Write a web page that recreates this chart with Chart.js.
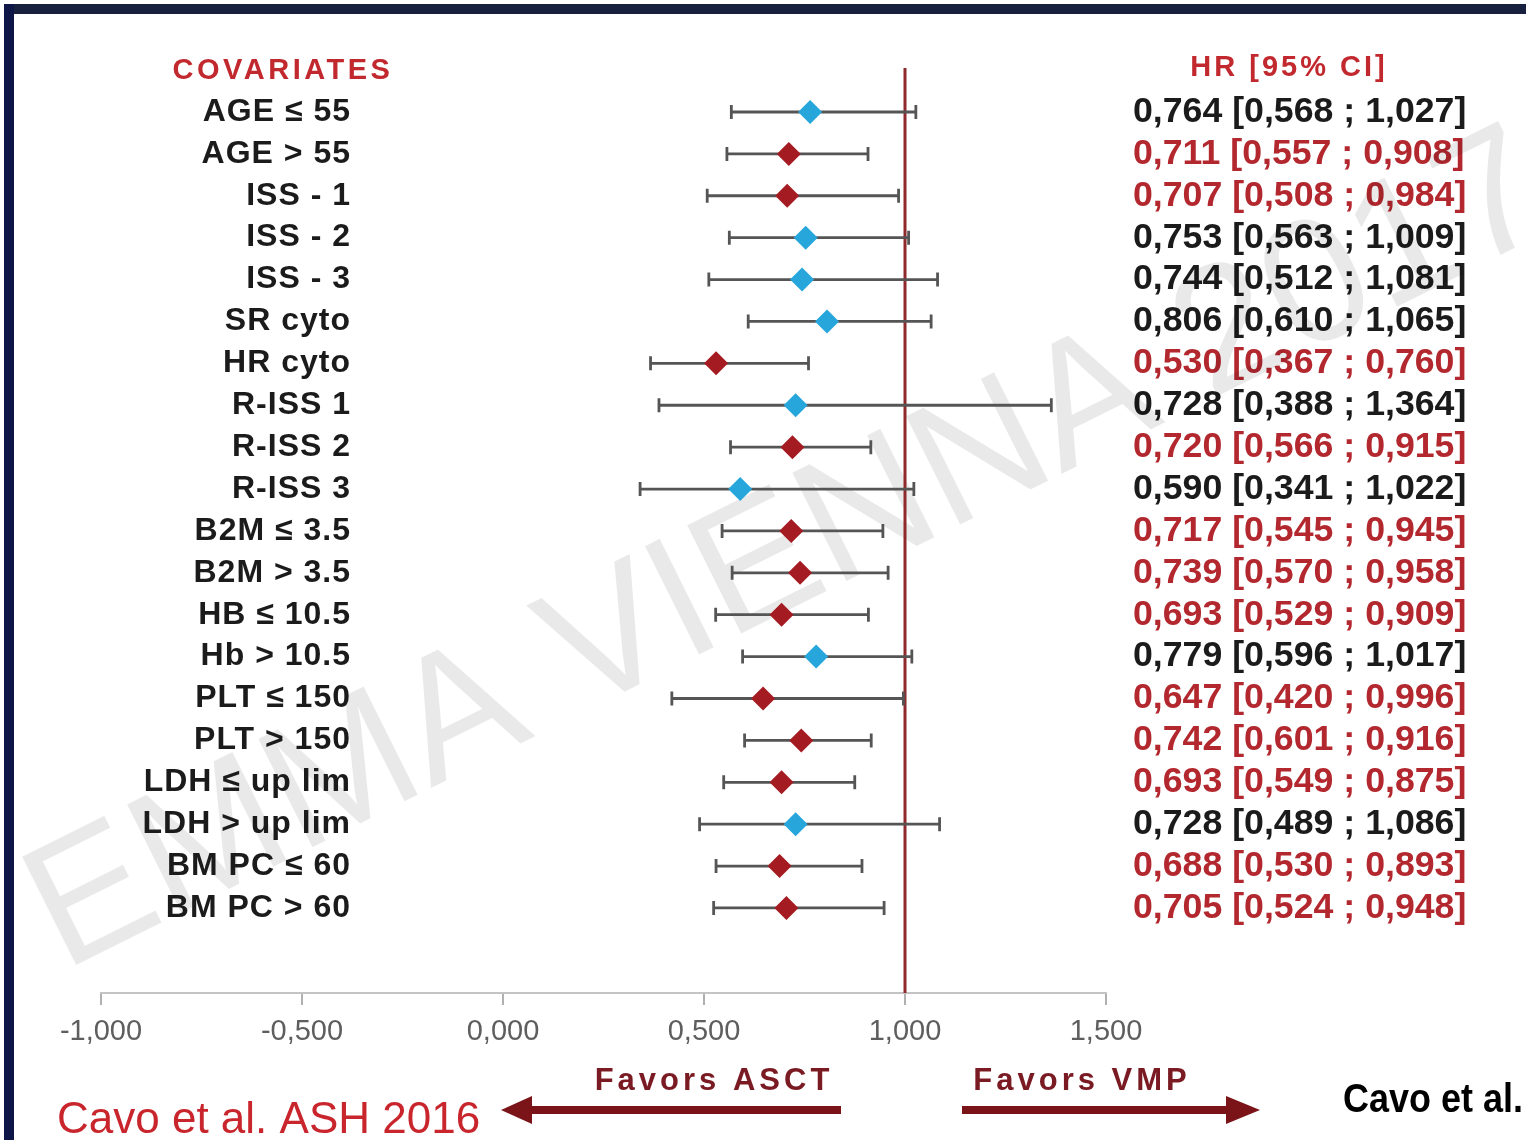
<!DOCTYPE html>
<html>
<head>
<meta charset="utf-8">
<script src="https://cdn.jsdelivr.net/npm/chart.js@4.4.1/dist/chart.umd.min.js"></script>
<style>
  html, body { margin: 0; padding: 0; background: #ffffff; }
  #wrap { position: relative; width: 1526px; height: 1140px; overflow: hidden; background: #fff; }
  #topbar { position: absolute; left: 4px; top: 4px; width: 1522px; height: 10px; background: #17213f; }
  #leftbar { position: absolute; left: 4px; top: 4px; width: 10px; height: 1136px; background: #0d1646; }
</style>
</head>
<body>
<div id="wrap">
  <canvas id="c" width="1526" height="1140"></canvas>
  <div id="topbar"></div>
  <div id="leftbar"></div>
</div>
<script>
// ---- data ----
const covariates = [
  "AGE \u2264 55", "AGE > 55", "ISS - 1", "ISS - 2", "ISS - 3",
  "SR cyto", "HR cyto", "R-ISS 1", "R-ISS 2", "R-ISS 3",
  "B2M \u2264 3.5", "B2M > 3.5", "HB \u2264 10.5", "Hb > 10.5", "PLT \u2264 150",
  "PLT > 150", "LDH \u2264 up lim", "LDH > up lim", "BM PC \u2264 60", "BM PC > 60"
];
const hrValues = [0.764, 0.711, 0.707, 0.753, 0.744, 0.806, 0.530, 0.728, 0.720, 0.590,
                  0.717, 0.739, 0.693, 0.779, 0.647, 0.742, 0.693, 0.728, 0.688, 0.705];
const ciLower  = [0.568, 0.557, 0.508, 0.563, 0.512, 0.610, 0.367, 0.388, 0.566, 0.341,
                  0.545, 0.570, 0.529, 0.596, 0.420, 0.601, 0.549, 0.489, 0.530, 0.524];
const ciUpper  = [1.027, 0.908, 0.984, 1.009, 1.081, 1.065, 0.760, 1.364, 0.915, 1.022,
                  0.945, 0.958, 0.909, 1.017, 0.996, 0.916, 0.875, 1.086, 0.893, 0.948];
const xTicks = [-1.0, -0.5, 0.0, 0.5, 1.0, 1.5];
const referenceHR = 1.0;

// ---- helpers ----
const fmt = v => v.toFixed(3).replace('.', ',');
const rowIdx = covariates.map((_, i) => i);
const crossesOne = covariates.map((_, i) => ciUpper[i] > referenceHR);
const BLUE = '#27a6dc', RED = '#a51b22';
const TXT_BLACK = '#1b1b1b', TXT_RED = '#b3282e';
const rightLabels = covariates.map((_, i) => `${fmt(hrValues[i])} [${fmt(ciLower[i])} ; ${fmt(ciUpper[i])}]`);

const Y_MIN = -1.05, Y_MAX = 21.03;

const forestPlugin = {
  id: 'forest',
  beforeDatasetsDraw(chart) {
    const {ctx, scales: {x, y}, chartArea} = chart;
    // watermark
    ctx.save();
    ctx.translate(790, 555);
    ctx.rotate(-26.5 * Math.PI / 180);
    ctx.font = '176px "Liberation Sans", Arial, sans-serif';
    ctx.fillStyle = 'rgba(0,0,0,0.085)';
    ctx.textAlign = 'center';
    ctx.textBaseline = 'middle';
    ctx.fillText('EMMA VIENNA 2017', 0, 0);
    ctx.restore();

    // reference line at HR = 1
    ctx.save();
    const rx = x.getPixelForValue(referenceHR);
    ctx.strokeStyle = '#8e2a2c';
    ctx.lineWidth = 3;
    ctx.beginPath();
    ctx.moveTo(rx, chartArea.top);
    ctx.lineTo(rx, chartArea.bottom);
    ctx.stroke();
    ctx.restore();

    // error bars
    ctx.save();
    ctx.strokeStyle = '#555555';
    ctx.lineWidth = 2.8;
    rowIdx.forEach(i => {
      const py = y.getPixelForValue(i);
      const x1 = x.getPixelForValue(ciLower[i]);
      const x2 = x.getPixelForValue(ciUpper[i]);
      ctx.beginPath();
      ctx.moveTo(x1, py); ctx.lineTo(x2, py);
      ctx.moveTo(x1, py - 7); ctx.lineTo(x1, py + 7);
      ctx.moveTo(x2, py - 7); ctx.lineTo(x2, py + 7);
      ctx.stroke();
    });
    ctx.restore();
  },
  afterDraw(chart) {
    const {ctx, scales: {y}} = chart;
    ctx.save();
    // covariate labels
    ctx.font = 'bold 32px "Liberation Sans", Arial, sans-serif';
    ctx.letterSpacing = '1px';
    ctx.fillStyle = TXT_BLACK;
    ctx.textAlign = 'right';
    ctx.textBaseline = 'middle';
    rowIdx.forEach(i => ctx.fillText(covariates[i], 351, y.getPixelForValue(i)));

    // headers
    ctx.fillStyle = '#c2292f';
    ctx.textAlign = 'center';
    ctx.font = 'bold 29px "Liberation Sans", Arial, sans-serif';
    ctx.letterSpacing = '3.5px';
    ctx.fillText('COVARIATES', 283, 71);
    ctx.letterSpacing = '3px';
    ctx.fillText('HR [95% CI]', 1289, 68);

    // favours labels
    ctx.fillStyle = '#7a1a22';
    ctx.font = 'bold 31px "Liberation Sans", Arial, sans-serif';
    ctx.letterSpacing = '4px';
    ctx.fillText('Favors ASCT', 714, 1081);
    ctx.fillText('Favors VMP', 1082, 1081);
    ctx.letterSpacing = '0px';

    // arrows
    ctx.fillStyle = '#7a1418';
    ctx.fillRect(525, 1106, 316, 8);
    ctx.beginPath();
    ctx.moveTo(501, 1110); ctx.lineTo(532, 1096); ctx.lineTo(532, 1124); ctx.closePath(); ctx.fill();
    ctx.fillRect(962, 1106, 268, 8);
    ctx.beginPath();
    ctx.moveTo(1260, 1110); ctx.lineTo(1226, 1096); ctx.lineTo(1226, 1124); ctx.closePath(); ctx.fill();

    // citations
    ctx.textAlign = 'left';
    ctx.textBaseline = 'alphabetic';
    ctx.fillStyle = '#c8262c';
    ctx.font = '44px "Liberation Sans", Arial, sans-serif';
    ctx.fillText('Cavo et al. ASH 2016', 57, 1133, 430);
    ctx.fillStyle = '#000';
    ctx.font = 'bold 40px "Liberation Sans Narrow", "Liberation Sans", Arial, sans-serif';
    ctx.fillText('Cavo et al.', 1343, 1112, 180);
    ctx.restore();
  }
};

new Chart(document.getElementById('c'), {
  type: 'scatter',
  data: {
    datasets: [{
      data: rowIdx.map(i => ({x: hrValues[i], y: i})),
      pointStyle: 'rectRot',
      pointRadius: 12,
      pointHoverRadius: 12,
      borderWidth: 0,
      backgroundColor: rowIdx.map(i => crossesOne[i] ? BLUE : RED),
      borderColor: rowIdx.map(i => crossesOne[i] ? BLUE : RED)
    }]
  },
  options: {
    responsive: false,
    animation: false,
    layout: { padding: { top: 68, left: 101, right: 0, bottom: 0 } },
    plugins: { legend: { display: false }, tooltip: { enabled: false } },
    scales: {
      x: {
        type: 'linear',
        min: xTicks[0],
        max: xTicks[xTicks.length - 1],
        afterBuildTicks: s => { s.ticks = xTicks.map(v => ({value: v})); },
        afterFit: s => { s.height = 147; },
        grid: { drawOnChartArea: false, drawTicks: true, tickLength: 12, color: '#b0b0b0', lineWidth: 2 },
        border: { color: '#c4c4c4', width: 2 },
        ticks: {
          callback: v => fmt(v),
          font: { family: '"Liberation Sans", Arial, sans-serif', size: 29 },
          color: '#5e5e5e',
          padding: 10,
          maxRotation: 0
        }
      },
      y: {
        type: 'linear',
        display: false,
        reverse: true,
        min: Y_MIN,
        max: Y_MAX
      },
      y2: {
        type: 'linear',
        position: 'right',
        reverse: true,
        min: Y_MIN,
        max: Y_MAX,
        afterBuildTicks: s => { s.ticks = rowIdx.map(i => ({value: i})); },
        afterFit: s => { s.width = 420; },
        grid: { display: false },
        border: { display: false },
        ticks: {
          autoSkip: false,
          padding: 19,
          callback: (v, idx) => rightLabels[idx],
          color: c => crossesOne[c.index] ? TXT_BLACK : TXT_RED,
          font: { family: '"Liberation Sans", Arial, sans-serif', size: 35.7, weight: 'bold' }
        }
      }
    }
  },
  plugins: [forestPlugin]
});
</script>
</body>
</html>
